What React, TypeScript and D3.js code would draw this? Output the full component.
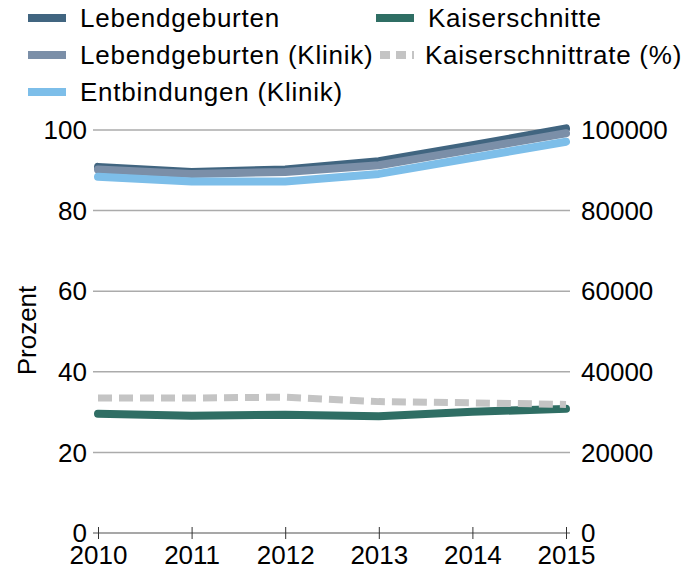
import { useEffect, useRef } from "react";
import * as d3 from "d3";

const years = [2010, 2011, 2012, 2013, 2014, 2015];
const lebendgeburten = [90850, 89600, 90200, 92250, 96200, 100400];
const lebendgeburtenKlinik = [90200, 89100, 89600, 91250, 95200, 99200];
const entbindungenKlinik = [88400, 87200, 87200, 89100, 93100, 97100];
const kaiserschnitte = [29600, 29100, 29350, 29000, 30100, 30800];
const kaiserschnittrate = [33.5, 33.5, 33.7, 32.6, 32.3, 31.9];
const leftTicks = [0, 20, 40, 60, 80, 100];
const rightTicks = [0, 20000, 40000, 60000, 80000, 100000];

const series = [
  { name: "Lebendgeburten", values: lebendgeburten, color: "#416580", axis: "right", dash: null },
  { name: "Lebendgeburten (Klinik)", values: lebendgeburtenKlinik, color: "#7b8fa8", axis: "right", dash: null },
  { name: "Entbindungen (Klinik)", values: entbindungenKlinik, color: "#7dbee9", axis: "right", dash: null },
  { name: "Kaiserschnitte", values: kaiserschnitte, color: "#2f6e64", axis: "right", dash: null },
  { name: "Kaiserschnittrate (%)", values: kaiserschnittrate, color: "#c4c4c4", axis: "left", dash: "14,7" },
];

export default function App() {
  const svgRef = useRef<SVGSVGElement>(null);

  useEffect(() => {
    const svg = d3.select(svgRef.current);
    svg.selectAll("*").remove();
    const font = "'Liberation Sans', Arial, sans-serif";
    const fs = "26px";

    const x = d3.scaleLinear().domain([2010, 2015]).range([98, 566]);
    const yL = d3.scaleLinear().domain([0, 100]).range([533, 130]);
    const yR = d3.scaleLinear().domain([0, 100000]).range([533, 130]);

    // gridlines
    svg.append("g")
      .selectAll("line")
      .data(leftTicks.filter(d => d > 0))
      .join("line")
      .attr("x1", 93).attr("x2", 570)
      .attr("y1", d => yL(d)).attr("y2", d => yL(d))
      .attr("stroke", "#ababab")
      .attr("stroke-width", 1.5);

    // bottom axis
    const xAxis = svg.append("g")
      .attr("transform", `translate(0,${yL(0)})`)
      .call(d3.axisBottom(x).tickValues(years).tickFormat(d3.format("d")).tickSize(6).tickSizeOuter(0));
    xAxis.select(".domain").attr("stroke", "#8a8a8a").attr("stroke-width", 1.5).attr("d", "M93,0H570");
    xAxis.selectAll(".tick line").attr("stroke", "#333").attr("y1", -6).attr("y2", 6);
    xAxis.selectAll(".tick text")
      .attr("y", 31)
      .attr("dy", null)
      .style("font-family", font)
      .style("font-size", fs)
      .attr("fill", "#000");

    // left labels
    svg.append("g")
      .selectAll("text")
      .data(leftTicks)
      .join("text")
      .attr("x", 87)
      .attr("y", d => yL(d))
      .attr("dy", "0.35em")
      .attr("text-anchor", "end")
      .style("font-family", font)
      .style("font-size", fs)
      .text(d => d);

    // right labels
    svg.append("g")
      .selectAll("text")
      .data(rightTicks)
      .join("text")
      .attr("x", 581)
      .attr("y", d => yR(d))
      .attr("dy", "0.35em")
      .attr("text-anchor", "start")
      .style("font-family", font)
      .style("font-size", fs)
      .text(d => d);

    svg.append("text")
      .attr("transform", `translate(36,${yL(50) - 1}) rotate(-90)`)
      .attr("text-anchor", "middle")
      .style("font-family", font)
      .style("font-size", fs)
      .text("Prozent");

    // lines
    series.forEach(s => {
      const y = s.axis === "left" ? yL : yR;
      const line = d3.line<number>()
        .x((_, i) => x(years[i]))
        .y(d => y(d));
      svg.append("path")
        .datum(s.values)
        .attr("d", line)
        .attr("fill", "none")
        .attr("stroke", s.color)
        .attr("stroke-width", s.dash ? 7 : 8)
        .attr("stroke-linecap", s.dash ? "butt" : "round")
        .attr("stroke-linejoin", "round")
        .attr("stroke-dasharray", s.dash);
    });

    // legend
    const legendPos = [
      { x: 28, y: 18 },
      { x: 28, y: 55 },
      { x: 28, y: 92 },
      { x: 376, y: 18 },
      { x: 376, y: 55 },
    ];
    const lg = svg.append("g");
    series.forEach((s, i) => {
      const p = legendPos[i];
      const g = lg.append("g").attr("transform", `translate(${p.x},${p.y})`);
      g.append("line")
        .attr("x1", s.dash ? 4 : 0).attr("x2", 38)
        .attr("y1", 0).attr("y2", 0)
        .attr("stroke", s.color)
        .attr("stroke-width", 8)
        .attr("stroke-dasharray", s.dash ? "10,6" : null);
      g.append("text")
        .attr("x", s.dash ? 49 : 52)
        .attr("y", 0)
        .attr("dy", "0.35em")
        .style("font-family", font)
        .style("font-size", fs)
        .style("letter-spacing", "0.75px")
        .text(s.name);
    });
  }, []);

  return (
    <svg
      ref={svgRef}
      width={690}
      height={569}
      style={{ position: "absolute", left: 0, top: 0, display: "block" }}
    />
  );
}
